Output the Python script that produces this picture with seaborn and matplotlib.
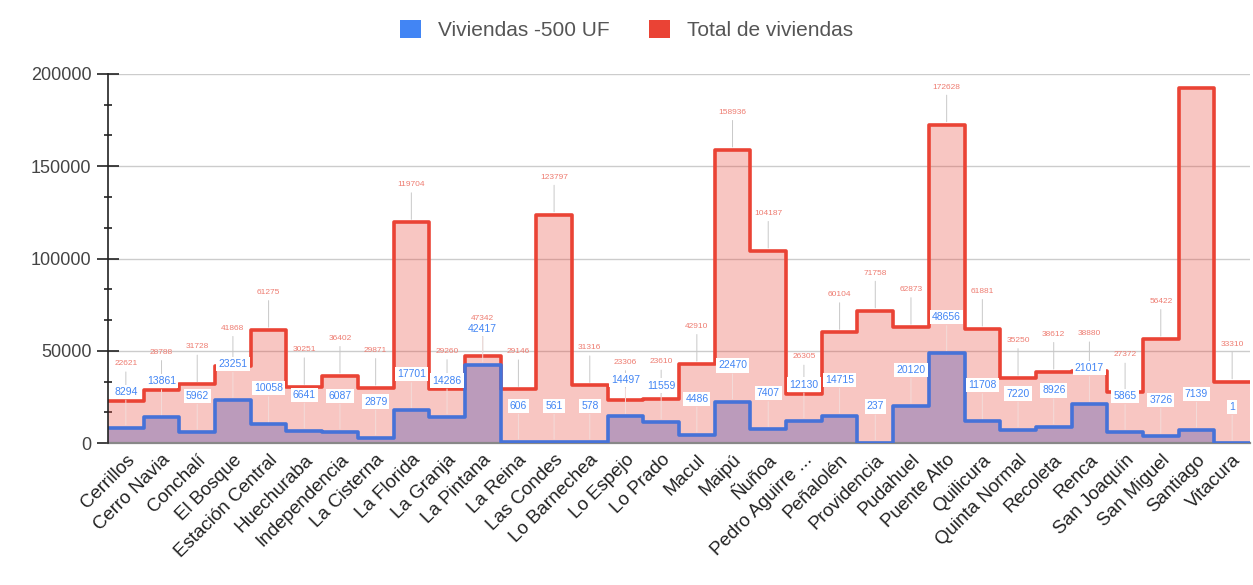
import numpy as np
import pandas as pd
import matplotlib
matplotlib.use("Agg")
import matplotlib.pyplot as plt
import seaborn as sns
from matplotlib.patches import Patch
from matplotlib.ticker import MultipleLocator

# Comunas of Santiago and their housing counts
comunas = [
    "Cerrillos", "Cerro Navia", "Conchalí", "El Bosque", "Estación Central",
    "Huechuraba", "Independencia", "La Cisterna", "La Florida", "La Granja",
    "La Pintana", "La Reina", "Las Condes", "Lo Barnechea", "Lo Espejo",
    "Lo Prado", "Macul", "Maipú", "Ñuñoa", "Pedro Aguirre ...", "Peñalolén",
    "Providencia", "Pudahuel", "Puente Alto", "Quilicura", "Quinta Normal",
    "Recoleta", "Renca", "San Joaquín", "San Miguel", "Santiago", "Vitacura",
]
viviendas_500uf = [
    8294, 13861, 5962, 23251, 10058, 6641, 6087, 2879, 17701, 14286,
    42417, 606, 561, 578, 14497, 11559, 4486, 22470, 7407, 12130, 14715,
    237, 20120, 48656, 11708, 7220, 8926, 21017, 5865, 3726, 7139, 1,
]
total_viviendas = [
    22621, 28788, 31728, 41868, 61275, 30251, 36402, 29871, 119704, 29260,
    47342, 29146, 123797, 31316, 23306, 23610, 42910, 158936, 104187, 26305,
    60104, 71758, 62873, 172628, 61881, 35250, 38612, 38880, 27372, 56422,
    192400, 33310,
]
serie_baja = "Viviendas -500 UF"
serie_total = "Total de viviendas"

azul = "#4285F4"
azul_linea = "#4672d8"
rojo = "#EA4335"

sns.set_theme(style="white")
plt.rcParams["font.family"] = ["Liberation Sans", "DejaVu Sans"]

fig = plt.figure(figsize=(12.53, 5.85), dpi=100)
ax = fig.add_axes([108 / 1253, 1 - 443 / 585, (1250 - 108) / 1253, (443 - 74) / 585])

n = len(comunas)
edges = np.arange(n + 1)


def escalones(values, name):
    # each comuna fills one unit slot; repeat the last value to close the slot
    return pd.DataFrame({"x": edges, "y": list(values) + [values[-1]], "serie": name})


df_total = escalones(total_viviendas, serie_total)
df_baja = escalones(viviendas_500uf, serie_baja)

ax.fill_between(df_total["x"], df_total["y"], step="post", color=rojo, alpha=0.3,
                linewidth=0, zorder=1)
ax.fill_between(df_baja["x"], df_baja["y"], step="post", color="#2e38ae", alpha=0.3,
                linewidth=0, zorder=2)

sns.lineplot(data=df_total, x="x", y="y", drawstyle="steps-post", color=rojo,
             linewidth=2.6, estimator=None, ax=ax, zorder=3,
             solid_joinstyle="round", solid_capstyle="round")
sns.lineplot(data=df_baja, x="x", y="y", drawstyle="steps-post", color=azul_linea,
             linewidth=2.6, estimator=None, ax=ax, zorder=4,
             solid_joinstyle="round", solid_capstyle="round")

ax.set_xlim(0, n)
ax.set_ylim(0, 200000)

# axes styling
ax.yaxis.set_major_locator(MultipleLocator(50000))
ax.yaxis.set_minor_locator(MultipleLocator(50000 / 3))
ax.grid(axis="y", which="major", color="#cccccc", linewidth=1)
ax.grid(axis="x", visible=False)
for side in ("top", "right"):
    ax.spines[side].set_visible(False)
ax.spines["left"].set_color("#222222")
ax.spines["left"].set_linewidth(1.2)
ax.spines["left"].set_zorder(6)
ax.spines["bottom"].set_color("#888888")
ax.spines["bottom"].set_linewidth(1.6)
ax.tick_params(axis="y", which="major", direction="inout", length=16, width=1.2,
               color="#222222", labelsize=13, labelcolor="#444444", pad=4, left=True)
ax.tick_params(axis="y", which="minor", direction="inout", length=6, width=1.2,
               color="#222222", left=True)
ax.set_yticklabels([f"{int(t)}" for t in ax.get_yticks()])

ax.set_xticks(np.arange(n) + 0.5)
ax.set_xticklabels(comunas, rotation=45, ha="right", rotation_mode="anchor",
                   fontsize=13.5, color="#222222")
ax.tick_params(axis="x", length=0, pad=6)
ax.set_xlabel("")
ax.set_ylabel("")

# value annotations with stems
top_px = ax.transData.transform((0, 200000))[1]
for i, (b, t) in enumerate(zip(viviendas_500uf, total_viviendas)):
    xc = i + 0.5
    y_px = ax.transData.transform((0, t))[1]
    if y_px + 44 < top_px:
        ax.annotate(f"{t}", xy=(xc, t), xytext=(0, 27), textcoords="offset points",
                    ha="center", va="center", fontsize=6, color="#ee7d72",
                    arrowprops=dict(arrowstyle="-", color="#c8c8c8", lw=0.7,
                                    shrinkA=1, shrinkB=2), zorder=7)
    ax.annotate(f"{b}", xy=(xc, b), xytext=(0, 26), textcoords="offset points",
                ha="center", va="center", fontsize=7.5, color=azul,
                bbox=dict(boxstyle="square,pad=0.2", fc="white", ec="none"),
                arrowprops=dict(arrowstyle="-", color="#f3dcda", lw=0.7,
                                shrinkA=1, shrinkB=2), zorder=7)

handles = [Patch(facecolor=azul, edgecolor="none"), Patch(facecolor=rojo, edgecolor="none")]
fig.legend(handles, [serie_baja, serie_total], loc="center", bbox_to_anchor=(0.5, 1 - 30 / 585),
           ncol=2, frameon=False, fontsize=15, handlelength=1.0, handleheight=1.0,
           columnspacing=1.9, handletextpad=0.8, labelcolor="#555555")

fig.savefig("out.png", dpi=100)
